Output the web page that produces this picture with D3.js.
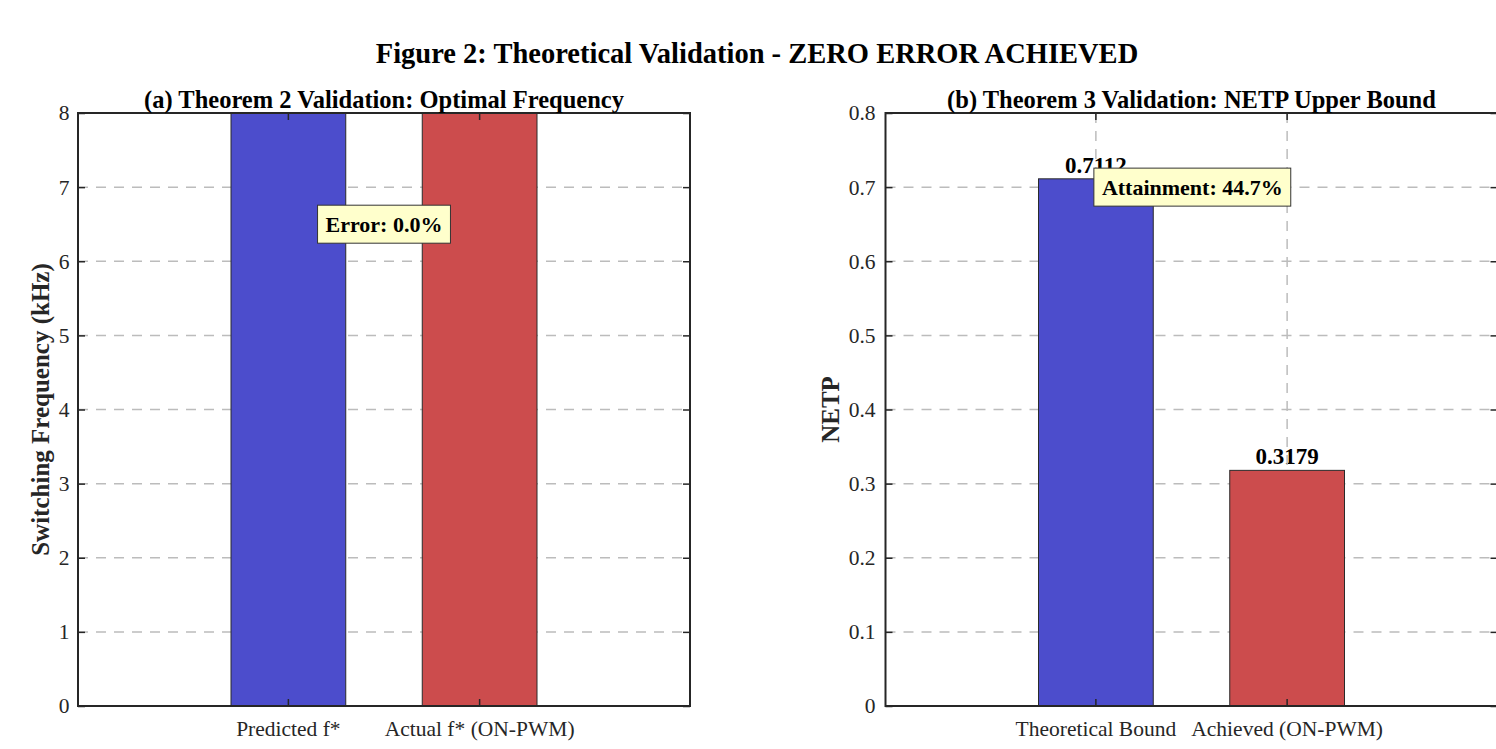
<!DOCTYPE html>
<html><head><meta charset="utf-8">
<script src="https://cdn.jsdelivr.net/npm/d3@7"></script>
<style>
html,body{margin:0;padding:0;background:#fff;}
svg{display:block;font-family:"Liberation Serif","Times New Roman",serif;}
</style></head>
<body>
<svg id="chart" width="1496" height="749"></svg>
<script>
// ---- data ----
const figureTitle = "Figure 2: Theoretical Validation - ZERO ERROR ACHIEVED";

const freqCategories = ["Predicted f*", "Actual f* (ON-PWM)"];
const freqValues = [15.0, 15.0];           // kHz, bars extend past the top of the axis
const freqTicks = [0, 1, 2, 3, 4, 5, 6, 7, 8];
const freqTitle = "(a) Theorem 2 Validation: Optimal Frequency";
const freqYLabel = "Switching Frequency (kHz)";
const freqNote = "Error: 0.0%";
const freqNoteY = 6.5;

const netpCategories = ["Theoretical Bound", "Achieved (ON-PWM)"];
const netpValues = [0.7112, 0.3179];
const netpTicks = [0, 0.1, 0.2, 0.3, 0.4, 0.5, 0.6, 0.7, 0.8];
const netpTitle = "(b) Theorem 3 Validation: NETP Upper Bound";
const netpYLabel = "NETP";
const netpNote = "Attainment: 44.7%";
const netpNoteY = 0.7;

const barColors = ["#4c4dcc", "#cc4c4d"];

// ---- drawing ----
const svg = d3.select("#chart");
const axisColor = "#262626";
const gridColor = "#bcbcbc";
const tickFont = 21.5;

svg.append("text")
  .attr("x", 757).attr("y", 63)
  .attr("text-anchor", "middle")
  .attr("font-weight", "bold").attr("font-size", 28.5)
  .attr("fill", "#000")
  .text(figureTitle);

function panel(opt) {
  const L = opt.left, R = opt.right, T = 113, B = 706;
  const x = d3.scaleBand().domain(opt.categories).range([L, R])
    .paddingInner(0.4).paddingOuter(0.8);
  const y = d3.scaleLinear().domain([opt.ticks[0], opt.ticks[opt.ticks.length - 1]]).range([B, T]);
  const g = svg.append("g");
  const clipId = "clip" + opt.id;
  svg.append("defs").append("clipPath").attr("id", clipId)
    .append("rect").attr("x", L).attr("y", T).attr("width", R - L).attr("height", B - T);

  const plot = g.append("g").attr("clip-path", `url(#${clipId})`);

  // value labels (drawn beneath grid, as in the reference)
  if (opt.showValues) {
    plot.selectAll("text.val").data(opt.values).enter().append("text")
      .attr("class", "val")
      .attr("x", (d, i) => x(opt.categories[i]) + x.bandwidth() / 2)
      .attr("y", d => y(d) - 6)
      .attr("text-anchor", "middle")
      .attr("font-weight", "bold").attr("font-size", 23)
      .attr("fill", "#000")
      .text(d => d.toFixed(4));
  }

  // grid
  plot.selectAll("line.hg").data(opt.ticks).enter().append("line")
    .attr("x1", L).attr("x2", R)
    .attr("y1", d => y(d)).attr("y2", d => y(d))
    .attr("stroke", gridColor).attr("stroke-width", 1.5)
    .attr("stroke-dasharray", "10,8");
  plot.selectAll("line.vg").data(opt.categories).enter().append("line")
    .attr("x1", d => x(d) + x.bandwidth() / 2).attr("x2", d => x(d) + x.bandwidth() / 2)
    .attr("y1", T).attr("y2", B)
    .attr("stroke", gridColor).attr("stroke-width", 1.5)
    .attr("stroke-dasharray", "10,8");

  // bars
  plot.selectAll("rect.bar").data(opt.values).enter().append("rect")
    .attr("x", (d, i) => x(opt.categories[i]))
    .attr("width", x.bandwidth())
    .attr("y", d => y(d))
    .attr("height", d => B - y(d))
    .attr("fill", (d, i) => barColors[i])
    .attr("stroke", "#2a2a2a").attr("stroke-width", 1);

  // axes (ticks inward, mirrored)
  const tl = 7;
  const yAxisL = d3.axisLeft(y).tickValues(opt.ticks).tickSize(-tl).tickPadding(opt.yPad)
    .tickFormat(opt.fmt);
  const ga = g.append("g").attr("transform", `translate(${L},0)`).call(yAxisL);
  ga.select(".domain").remove();
  ga.selectAll("line").attr("stroke", axisColor).attr("stroke-width", 1.5);
  ga.selectAll("text").attr("font-size", tickFont).attr("fill", "#262626")
    .attr("font-family", "Liberation Serif, Times New Roman, serif");
  const yAxisR = d3.axisRight(y).tickValues(opt.ticks).tickSize(-tl).tickFormat("");
  const gr = g.append("g").attr("transform", `translate(${R},0)`).call(yAxisR);
  gr.select(".domain").remove();
  gr.selectAll("line").attr("stroke", axisColor).attr("stroke-width", 1.5);

  const xOff = x.bandwidth() / 2;
  const xAxisB = d3.axisBottom(x).tickSize(-tl).tickPadding(15);
  const gb = g.append("g").attr("transform", `translate(0,${B})`).call(xAxisB);
  gb.select(".domain").remove();
  gb.selectAll("line").attr("stroke", axisColor).attr("stroke-width", 1.5);
  gb.selectAll("text").attr("font-size", tickFont).attr("fill", "#262626")
    .attr("font-family", "Liberation Serif, Times New Roman, serif");
  const xAxisT = d3.axisTop(x).tickSize(-tl).tickFormat("");
  const gt = g.append("g").attr("transform", `translate(0,${T})`).call(xAxisT);
  gt.select(".domain").remove();
  gt.selectAll("line").attr("stroke", axisColor).attr("stroke-width", 1.5);

  // box
  g.append("rect").attr("x", L).attr("y", T).attr("width", R - L).attr("height", B - T)
    .attr("fill", "none").attr("stroke", axisColor).attr("stroke-width", 2);

  // title
  g.append("text").attr("x", (L + R) / 2).attr("y", 108)
    .attr("text-anchor", "middle").attr("font-weight", "bold").attr("font-size", 24.5)
    .attr("fill", "#000").text(opt.title);

  // y label
  g.append("text")
    .attr("transform", `translate(${opt.ylabelX},${(T + B) / 2}) rotate(-90)`)
    .attr("text-anchor", "middle").attr("dominant-baseline", "central")
    .attr("font-weight", "bold").attr("font-size", 25)
    .attr("fill", "#262626").text(opt.ylabel);

  // annotation box
  const c0 = x(opt.categories[0]) + xOff, c1 = x(opt.categories[1]) + xOff;
  const mid = opt.noteAt === "middle";
  const ax = mid ? (c0 + c1) / 2 : c0 - 2 + 8;
  const ay = y(opt.noteY);
  const ng = g.append("g");
  const nt = ng.append("text")
    .attr("x", ax).attr("y", ay)
    .attr("text-anchor", mid ? "middle" : "start")
    .attr("dominant-baseline", "central")
    .attr("font-weight", "bold").attr("font-size", 22).attr("fill", "#000")
    .text(opt.note);
  const bb = nt.node().getBBox();
  ng.insert("rect", "text")
    .attr("x", bb.x - 8).attr("y", ay - 19)
    .attr("width", bb.width + 16).attr("height", 38)
    .attr("fill", "#ffffcc").attr("stroke", "#333").attr("stroke-width", 1);
}

const fmtA = d => String(d);
const fmtB = d => d === 0 ? "0" : d.toFixed(1);

panel({id: "a", left: 78, right: 690, categories: freqCategories, values: freqValues,
  ticks: freqTicks, fmt: fmtA, yPad: 8.5, title: freqTitle, ylabel: freqYLabel, ylabelX: 40,
  note: freqNote, noteY: freqNoteY, noteAt: "middle", showValues: false});
panel({id: "b", left: 885.5, right: 1497.5, categories: netpCategories, values: netpValues,
  ticks: netpTicks, fmt: fmtB, yPad: 10, title: netpTitle, ylabel: netpYLabel, ylabelX: 830,
  note: netpNote, noteY: netpNoteY, noteAt: "first", showValues: true});
</script>
</body></html>
